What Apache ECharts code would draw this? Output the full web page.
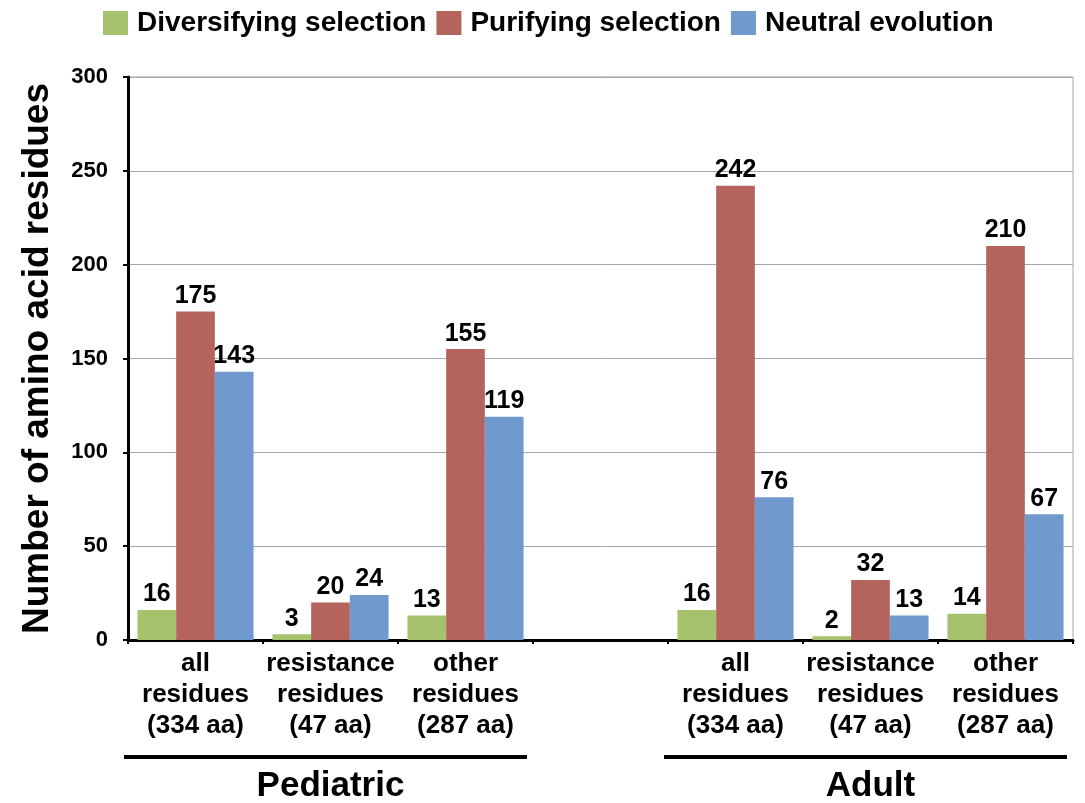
<!DOCTYPE html>
<html>
<head>
<meta charset="utf-8">
<title>Selection on amino acid residues</title>
<script src="https://cdn.jsdelivr.net/npm/echarts@6/dist/echarts.min.js"></script>
<style>
  html, body { margin: 0; padding: 0; background: #fff; }
  #chart { width: 1085px; height: 803px; }
</style>
</head>
<body>
<div id="chart"></div>
<script>
// Residue categories; the empty slot separates the two patient groups
const categories = [
  'all\nresidues\n(334 aa)',
  'resistance\nresidues\n(47 aa)',
  'other\nresidues\n(287 aa)',
  '',
  'all\nresidues\n(334 aa)',
  'resistance\nresidues\n(47 aa)',
  'other\nresidues\n(287 aa)'
];

// Number of residues under each mode of evolution
const diversifying = [16, 3, 13, null, 16, 2, 14];
const purifying    = [175, 20, 155, null, 242, 32, 210];
const neutral      = [143, 24, 119, null, 76, 13, 67];

const seriesNames = ['Diversifying selection', 'Purifying selection', 'Neutral evolution'];
const seriesColors = ['#A7C26C', '#B5645D', '#7099CE'];

// Patient groups and the category index range each one spans
const groupNames = ['Pediatric', 'Adult'];
const groupSpans = [[0, 2], [4, 6]];

const yTicks = { min: 0, max: 300, interval: 50 };

const FONT = '"Liberation Sans", Arial, Helvetica, sans-serif';

const chart = echarts.init(document.getElementById('chart'), null, { renderer: 'canvas' });

function barSeries(name, data, color) {
  return {
    name: name,
    type: 'bar',
    data: data,
    barGap: '0%',
    barCategoryGap: '14%',
    itemStyle: { color: color },
    label: {
      show: true,
      position: 'top',
      distance: 3,
      color: '#000',
      fontFamily: FONT,
      fontWeight: 'bold',
      fontSize: 25
    }
  };
}

const option = {
  backgroundColor: '#fff',
  animation: false,
  textStyle: { fontFamily: FONT },
  legend: {
    top: 4,
    left: 98,
    itemWidth: 25,
    itemHeight: 24,
    itemGap: 10,
    icon: 'rect',
    textStyle: {
      fontFamily: FONT,
      fontWeight: 'bold',
      fontSize: 28,
      color: '#000',
      padding: [0, 0, 0, 4]
    },
    data: seriesNames
  },
  grid: {
    left: 128,
    right: 12,
    top: 77,
    bottom: 163,
    show: true,
    borderColor: '#a6a6a6',
    borderWidth: 1
  },
  xAxis: {
    type: 'category',
    data: categories,
    boundaryGap: true,
    axisLine: { show: true, lineStyle: { color: '#000', width: 3 } },
    axisTick: { show: true, length: 4, lineStyle: { color: '#000', width: 2 } },
    axisLabel: {
      interval: 0,
      margin: 8,
      color: '#000',
      fontFamily: FONT,
      fontWeight: 'bold',
      fontSize: 26,
      lineHeight: 31
    }
  },
  yAxis: {
    type: 'value',
    min: yTicks.min,
    max: yTicks.max,
    interval: yTicks.interval,
    name: 'Number of amino acid residues',
    nameLocation: 'middle',
    nameRotate: 90,
    nameGap: 72,
    nameTextStyle: { fontFamily: FONT, fontWeight: 'bold', fontSize: 37, color: '#000' },
    axisLine: { show: true, lineStyle: { color: '#000', width: 3 } },
    axisTick: { show: true, length: 5, lineStyle: { color: '#000', width: 2 } },
    axisLabel: {
      margin: 20,
      color: '#000',
      fontFamily: FONT,
      fontWeight: 'bold',
      fontSize: 22
    },
    splitLine: { show: true, lineStyle: { color: '#a6a6a6', width: 1 } }
  },
  series: [
    barSeries(seriesNames[0], diversifying, seriesColors[0]),
    barSeries(seriesNames[1], purifying, seriesColors[1]),
    barSeries(seriesNames[2], neutral, seriesColors[2])
  ]
};

chart.setOption(option);

// Group brackets under the category labels, placed from the axis scale
function drawGroups() {
  const c0 = chart.convertToPixel({ xAxisIndex: 0 }, 0);
  const c1 = chart.convertToPixel({ xAxisIndex: 0 }, 1);
  const slot = c1 - c0;
  const lineY = 757;
  const labelY = 786;
  const elements = [];
  groupSpans.forEach(function (span, i) {
    const x1 = chart.convertToPixel({ xAxisIndex: 0 }, span[0]) - slot / 2 - 4;
    const x2 = chart.convertToPixel({ xAxisIndex: 0 }, span[1]) + slot / 2 - 6;
    elements.push({
      type: 'line',
      shape: { x1: x1, y1: lineY, x2: x2, y2: lineY },
      style: { stroke: '#000', lineWidth: 4 }
    });
    const mid = chart.convertToPixel({ xAxisIndex: 0 }, (span[0] + span[1]) / 2);
    elements.push({
      type: 'text',
      x: mid,
      y: labelY,
      style: {
        text: groupNames[i],
        fill: '#000',
        font: 'bold 35px ' + FONT,
        textAlign: 'center',
        textVerticalAlign: 'middle'
      }
    });
  });
  chart.setOption({ graphic: { elements: elements } });
}

drawGroups();
</script>
</body>
</html>
